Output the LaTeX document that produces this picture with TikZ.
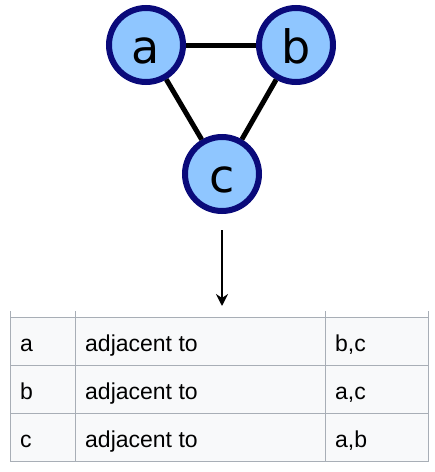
\documentclass[tikz,border=0pt]{standalone}
\usepackage{fontspec}
\setmainfont{Liberation Sans}
\newfontfamily\circfont{DejaVu Sans}
\usetikzlibrary{arrows.meta}
\definecolor{nodefill}{RGB}{143,198,255}
\definecolor{nodeborder}{RGB}{10,10,122}
\definecolor{gridgray}{RGB}{168,174,182}
\definecolor{cellfill}{RGB}{248,249,250}
\begin{document}
\begin{tikzpicture}[x=1pt,y=-1pt,
  vert/.style={circle,draw=nodeborder,fill=nodefill,line width=6pt,minimum size=74pt,inner sep=0pt,
    text height=36pt,text depth=0pt,
    font=\circfont\fontsize{46}{50}\selectfont},
  edge/.style={line width=5pt,black},
  cell/.style={draw=gridgray,fill=cellfill,line width=1pt,minimum height=48pt,inner sep=0pt,anchor=north west},
  celltext/.style={anchor=base west,inner sep=0pt,font=\fontsize{23}{26}\selectfont}]
\useasboundingbox (0,0) rectangle (435,472);
\node[vert] (a) at (146,45) {a};
\node[vert] (b) at (296,45) {b};
\node[vert] (c) at (222,174) {c};
\draw[edge] (a) -- (b);
\draw[edge] (a) -- (c);
\draw[edge] (b) -- (c);
\coordinate (s) at (222,230);
\coordinate (e) at (222,306);
\draw[line width=2.4pt,-{Stealth[length=12pt,width=12pt,inset=4pt]}] (s) -- (e);
% table cells
\foreach \r/\y in {1/317,2/365,3/413}{
  \node[cell,minimum width=65pt] (c\r1) at (10,\y) {};
  \node[cell,minimum width=250pt] (c\r2) at (75,\y) {};
  \node[cell,minimum width=103pt] (c\r3) at (325,\y) {};
}
\foreach \x in {10,75,325,428}{\draw[gridgray,line width=1pt] (\x,311) -- (\x,317);}
\node[celltext] (t11) at (20,351) {a};
\node[celltext] (t12) at (85,351) {adjacent to};
\node[celltext] (t13) at (335,351) {b,c};
\node[celltext] (t21) at (20,399) {b};
\node[celltext] (t22) at (85,399) {adjacent to};
\node[celltext] (t23) at (335,399) {a,c};
\node[celltext] (t31) at (20,447) {c};
\node[celltext] (t32) at (85,447) {adjacent to};
\node[celltext] (t33) at (335,447) {a,b};
\end{tikzpicture}
\end{document}
